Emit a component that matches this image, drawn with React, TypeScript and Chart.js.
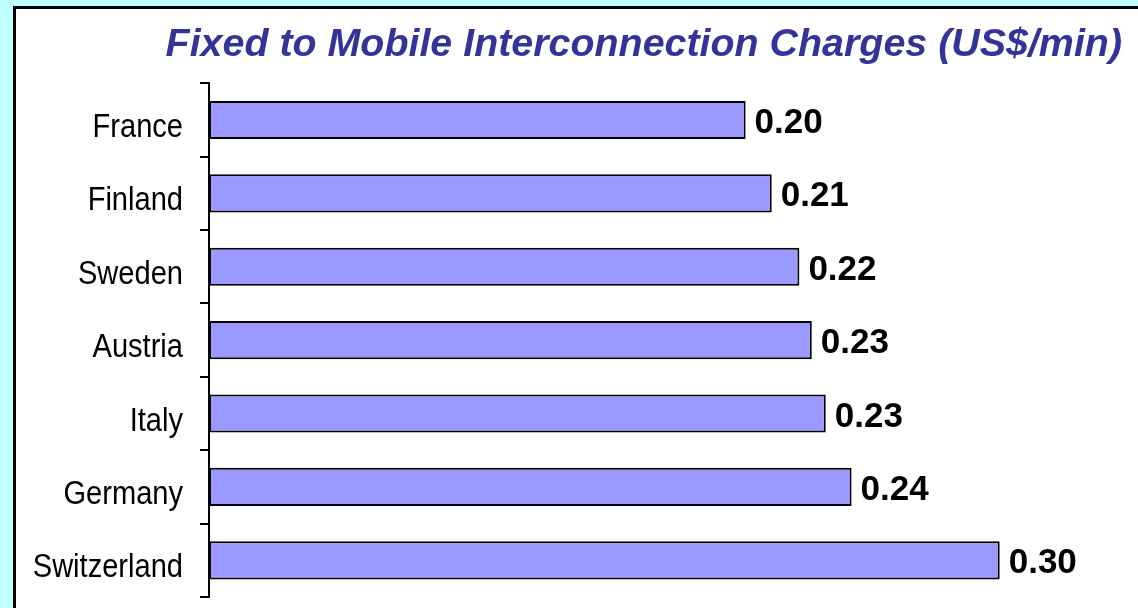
import React, { useEffect, useRef } from "react";
import { Chart, registerables } from "chart.js";

Chart.register(...registerables);

const countries = ["France", "Finland", "Sweden", "Austria", "Italy", "Germany", "Switzerland"];
const charges = [0.2036, 0.2135, 0.224, 0.2287, 0.234, 0.2438, 0.3];
const titleText = "Fixed to Mobile Interconnection Charges (US$/min)";

const valueLabels = {
  id: "valueLabels",
  afterDatasetsDraw(chart: any) {
    const ctx = chart.ctx;
    const meta = chart.getDatasetMeta(0);
    ctx.save();
    ctx.font = "bold 35px 'Liberation Sans', Arial, sans-serif";
    ctx.fillStyle = "#000000";
    ctx.textAlign = "left";
    ctx.textBaseline = "alphabetic";
    meta.data.forEach((bar: any, i: number) => {
      const v = chart.data.datasets[0].data[i] as number;
      ctx.fillText(v.toFixed(2), bar.x + 9, bar.y + 13);
    });
    ctx.restore();
  },
};

// Category labels drawn in a horizontally condensed Liberation Sans (Arial Narrow look)
const narrowLabels = {
  id: "narrowLabels",
  afterDraw(chart: any) {
    const ctx = chart.ctx;
    const yScale = chart.scales.y;
    const right = chart.chartArea.left - 26;
    const sx = 0.855;
    ctx.save();
    ctx.font = "34px 'Liberation Sans', Arial, sans-serif";
    ctx.fillStyle = "#000000";
    ctx.textAlign = "right";
    ctx.textBaseline = "alphabetic";
    ctx.scale(sx, 1);
    (chart.data.labels as string[]).forEach((lab: string, i: number) => {
      const y = yScale.getPixelForValue(i);
      ctx.fillText(lab, right / sx, y + 17);
    });
    ctx.restore();
  },
};

export default function App() {
  const ref = useRef<HTMLCanvasElement>(null);
  useEffect(() => {
    if (!ref.current) return;
    const chart = new Chart(ref.current, {
      type: "bar",
      data: {
        labels: countries,
        datasets: [
          {
            data: charges,
            backgroundColor: "#9999FF",
            borderColor: "#000000",
            borderWidth: 2,
            borderSkipped: false,
            barPercentage: 0.52,
            categoryPercentage: 1,
          },
        ],
      },
      plugins: [valueLabels, narrowLabels],
      options: {
        indexAxis: "y",
        animation: false,
        responsive: true,
        maintainAspectRatio: false,
        layout: { padding: { left: 16, right: 16, top: 10, bottom: 11 } },
        plugins: {
          legend: { display: false },
          tooltip: { enabled: false },
          title: {
            display: true,
            text: titleText,
            align: "end",
            color: "#333399",
            font: { family: "'Liberation Sans', Arial, sans-serif", size: 39.4, style: "italic", weight: "bold" },
            padding: { top: 12, bottom: 14 },
          },
        },
        scales: {
          x: {
            display: false,
            min: 0,
            max: 0.3464,
          },
          y: {
            afterFit: (scale: any) => {
              scale.width = 193;
            },
            border: { display: true, color: "#000000", width: 2 },
            grid: {
              display: true,
              drawOnChartArea: false,
              drawTicks: true,
              tickLength: 9,
              color: "#000000",
              lineWidth: 2,
              offset: true,
            },
            ticks: {
              display: false,
            },
          },
        },
      },
    });
    return () => chart.destroy();
  }, []);

  return (
    <div style={{ position: "fixed", left: 0, top: 0, width: 1138, height: 608, background: "#C0FFFF", overflow: "hidden" }}>
      <div
        style={{
          position: "absolute",
          left: 13,
          top: 6,
          width: 1200,
          height: 700,
          background: "#FFFFFF",
          border: "3px solid #000000",
          boxSizing: "border-box",
        }}
      />
      <div style={{ position: "absolute", left: 0, top: 0, width: 1138, height: 608 }}>
        <canvas ref={ref} style={{ display: "block" }} />
      </div>
    </div>
  );
}
